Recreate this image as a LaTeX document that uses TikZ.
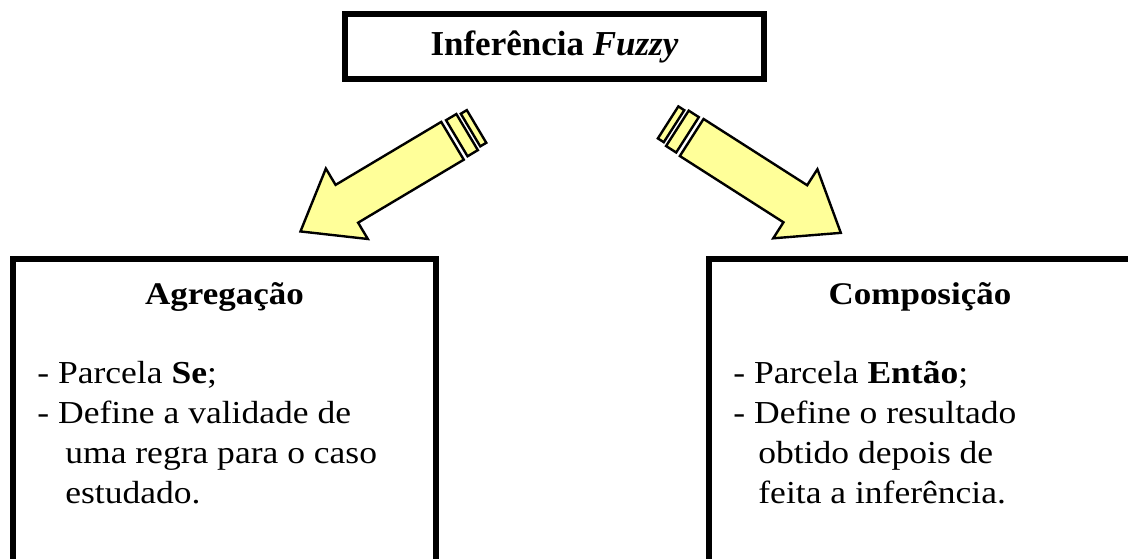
\documentclass[tikz,border=0pt]{standalone}
\usepackage{fontspec}
\setmainfont{Liberation Serif}
\newfontfamily\corpo{Liberation Serif}[FakeStretch=1.11]
\definecolor{amarelo}{RGB}{255,255,153}
\tikzset{
  caixa/.style={draw,line width=3pt,inner sep=0pt},
  titulo/.style={font=\fontsize{17.5}{21}\selectfont\bfseries},
  cabeca/.style={font=\corpo\fontsize{15.75}{20}\selectfont\bfseries,anchor=base,inner sep=0pt},
  texto/.style={font=\corpo\fontsize{16}{20}\selectfont,align=left,anchor=base west,inner sep=0pt},
  seta/.style={draw=black,line width=1.2pt,fill=amarelo,line join=miter},
  seta grossa/.pic={
    \filldraw[seta] (0,-22) -- (123,-22) -- (123,-41) -- (177,0) -- (123,41) -- (123,22) -- (0,22) -- cycle;
    \filldraw[seta] (-5,-21) rectangle (-17,21);
    \filldraw[seta] (-21,-19) rectangle (-28,19);
  }
}
\begin{document}
\begin{tikzpicture}[x=0.5pt,y=0.5pt]
		\useasboundingbox (0,0) rectangle (1128,558);
		\clip (0,0) rectangle (1128,558);
		% caixas
		\node[caixa,titulo,minimum width=209.5pt,minimum height=32.5pt] (infer) at (554.5,511) {Inferência \textit{Fuzzy}};
		\node[caixa,minimum width=211.5pt,minimum height=154.75pt] (agreg) at (224.5,144.75) {};
		\node[caixa,minimum width=211.5pt,minimum height=154.75pt] (compo) at (920,144.75) {};
		% setas
		\coordinate (sa) at (452.5,417.2);
		\coordinate (sc) at (691.7,420.5);
		\pic[rotate=210.8] at (sa) {seta grossa};
		\pic[rotate=-32.6] at (sc) {seta grossa};
		% textos (base = ultima linha)
		\node[cabeca] (agreg-tit) at (224.5,254) {Agregação};
		\node[cabeca] (compo-tit) at (920,254) {Composição};
		\node[texto] (agreg-txt) at (37,55) {- Parcela \textbf{Se};\\- Define a validade de\\\hspace*{14pt}uma regra para o caso\\\hspace*{14pt}estudado.};
		\node[texto] (compo-txt) at (733,55) {- Parcela \textbf{Então};\\- Define o resultado\\\hspace*{12.5pt}obtido depois de\\\hspace*{12.5pt}feita a inferência.};
	\end{tikzpicture}
\end{document}
